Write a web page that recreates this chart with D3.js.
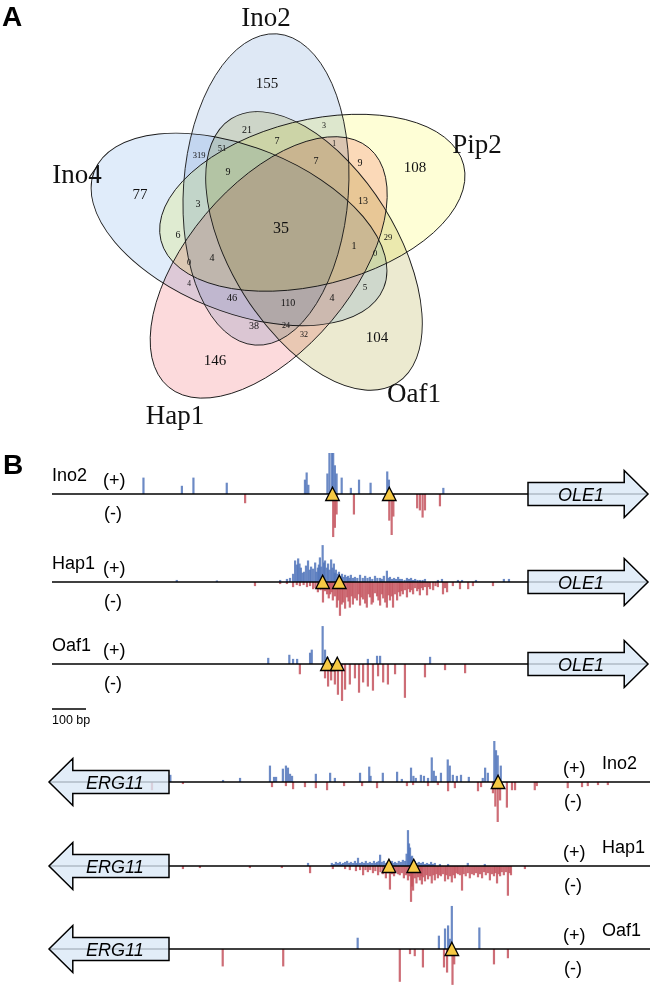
<!DOCTYPE html>
<html><head><meta charset="utf-8">
<script src="https://cdn.jsdelivr.net/npm/d3@7"></script>
<style>body{margin:0;background:#fff}svg{display:block}</style>
</head><body>
<svg id="c" width="650" height="987"></svg>
<script>
// ================= DATA =================
const setNames = ["Ino2", "Pip2", "Oaf1", "Hap1", "Ino4"];
const setColors = ["#dee8f5", "#fefed6", "#ecead0", "#fcdadc", "#e0ecfa"];
const regionCounts = [155,108,104,146,77,35,21,3,319,51,7,1,7,9,9,13,3,6,29,1,0,0,4,4,46,110,4,5,38,24,32];

const geneNames = ["OLE1", "ERG11"];
const factorNames = ["Ino2", "Hap1", "Oaf1"];
// [position bp relative to ATG (negative = upstream), read signal]
const ole1Ino2Plus = [[-1131,16],[-1018,8],[-984,16],[-886,11],[-656,14],[-651,21],[-646,9],[-590,20],[-584,40],[-577,40],[-573,40],[-568,28],[-563,20],[-548,16],[-521,6],[-497,14],[-463,11],[-414,22],[-409,14],[-249,6]];
const ole1Ino2Minus = [[-832,9],[-573,42],[-568,33],[-563,20],[-512,20],[-408,26],[-401,40],[-396,22],[-326,14],[-318,16],[-310,23],[-303,16],[-259,12]];
const ole1Ino2Motifs = [-575,-408];
const ole1Hap1Plus = [[-1033,2],[-915,1.5],[-729,2],[-709,3],[-700,4],[-691,8],[-685,21],[-680,17],[-676,23],[-672,18],[-668,14],[-663,9],[-659,10],[-653,16],[-647,21],[-642,12],[-638,15],[-632,13],[-626,19],[-622,10],[-618,14],[-615,17],[-612,24],[-608,15],[-604,36],[-600,19],[-597,21],[-592,14],[-588,18],[-584,12],[-579,22],[-575,14],[-571,18],[-568,9],[-565,12],[-560,8],[-556,10],[-551,6],[-547,8],[-543,5],[-538,7],[-533,5],[-529,6],[-525,4],[-521,7],[-515,4],[-509,5],[-502,4],[-494,7],[-486,4],[-479,6],[-472,4],[-465,5],[-458,3],[-450,6],[-443,4],[-435,4],[-430,3],[-424,6],[-415,11],[-410,4],[-406,5],[-400,3],[-394,4],[-388,3],[-382,5],[-377,3],[-371,3],[-363,2],[-356,4],[-350,3],[-344,4],[-338,2],[-332,3],[-325,2],[-318,2],[-310,2],[-303,3],[-265,2],[-253,3],[-206,2],[-194,2],[-153,2],[-71,3],[-56,3]];
const ole1Hap1Minus = [[-803,4],[-729,2],[-709,2],[-691,5],[-680,3],[-671,4],[-660,3],[-650,5],[-641,4],[-632,7],[-625,6],[-618,10],[-610,8],[-603,20],[-597,9],[-591,12],[-586,16],[-582,12],[-578,10],[-574,18],[-568,14],[-562,25],[-558,18],[-553,33],[-548,22],[-544,20],[-538,26],[-532,15],[-528,19],[-524,25],[-519,14],[-515,22],[-509,16],[-503,18],[-498,12],[-494,23],[-490,15],[-485,17],[-479,21],[-474,25],[-469,12],[-465,15],[-460,22],[-456,20],[-450,11],[-444,14],[-440,18],[-435,23],[-430,12],[-426,16],[-420,20],[-415,25],[-410,13],[-406,18],[-401,14],[-397,25],[-391,12],[-385,18],[-380,10],[-376,14],[-372,9],[-368,12],[-362,8],[-356,15],[-351,7],[-347,10],[-343,8],[-338,12],[-332,6],[-326,9],[-322,7],[-318,13],[-313,6],[-309,8],[-303,5],[-297,13],[-292,5],[-288,7],[-279,8],[-272,4],[-265,5],[-250,12],[-244,6],[-238,10],[-221,4],[-200,7],[-176,7],[-162,4],[-103,4]];
const ole1Hap1Motifs = [-604,-555];
const ole1Oaf1Plus = [[-764,6],[-702,9],[-691,5],[-679,5],[-641,11],[-636,14],[-604,37],[-597,14],[-590,7],[-471,5],[-444,8],[-435,8],[-288,7]];
const ole1Oaf1Minus = [[-671,10],[-597,14],[-588,22],[-579,16],[-568,20],[-559,30],[-547,36],[-538,25],[-524,20],[-509,14],[-497,28],[-485,18],[-471,22],[-456,26],[-441,12],[-426,18],[-412,20],[-391,10],[-362,33],[-303,13],[-244,6],[-185,9]];
const ole1Oaf1Motifs = [-590,-561];

const erg11Ino2Plus = [[-4,7],[-159,2],[-209,4],[-297,16],[-309,5],[-315,5],[-335,13],[-344,16],[-350,14],[-356,8],[-362,6],[-432,8],[-474,9],[-488,4],[-562,9],[-589,15],[-593,6],[-629,9],[-671,10],[-685,3],[-712,14],[-719,6],[-726,4],[-741,7],[-750,6],[-762,4],[-773,24],[-779,11],[-785,6],[-800,9],[-820,22],[-826,16],[-835,7],[-847,6],[-859,7],[-882,5],[-923,4],[-930,14],[-938,9],[-957,40],[-962,31],[-967,26],[-976,16]];
const erg11Ino2Minus = [[50,8],[-41,2],[-303,5],[-344,4],[-365,7],[-400,5],[-432,6],[-465,8],[-515,4],[-568,4],[-612,6],[-700,4],[-718,3],[-762,4],[-791,3],[-821,9],[-841,6],[-909,9],[-918,5],[-953,11],[-960,24],[-967,39],[-974,18],[-994,25],[-1009,8],[-1018,8],[-1076,8],[-1082,4],[-1173,6],[-1215,5],[-1232,4],[-1262,3],[-1291,3]];
const erg11Ino2Motifs = [-968];
const erg11Hap1Plus = [[-409,3],[-479,3],[-485,2],[-491,4],[-497,3],[-503,4],[-508,2],[-512,3],[-518,4],[-524,5],[-530,3],[-535,4],[-541,3],[-547,5],[-552,3],[-556,8],[-562,3],[-568,4],[-574,3],[-579,5],[-585,3],[-591,4],[-597,3],[-603,5],[-608,3],[-612,4],[-617,5],[-621,11],[-626,4],[-632,5],[-638,3],[-644,4],[-650,3],[-656,5],[-660,3],[-665,4],[-670,3],[-676,5],[-682,4],[-688,6],[-694,5],[-699,12],[-703,35],[-706,22],[-709,18],[-712,9],[-715,10],[-719,4],[-723,5],[-729,3],[-735,4],[-741,3],[-747,4],[-753,2],[-759,3],[-765,2],[-771,4],[-776,2],[-782,3],[-797,2],[-821,2],[-879,3],[-929,2]];
const erg11Hap1Minus = [[-41,3],[-91,2],[-238,2],[-332,2],[-415,7],[-482,3],[-518,3],[-532,4],[-550,5],[-562,4],[-571,9],[-578,4],[-585,6],[-592,4],[-600,7],[-607,5],[-615,9],[-622,6],[-629,8],[-634,5],[-638,12],[-644,7],[-650,23],[-656,8],[-662,10],[-668,6],[-674,8],[-679,9],[-685,7],[-691,12],[-697,9],[-703,14],[-708,10],[-712,35],[-715,20],[-718,24],[-723,12],[-728,17],[-733,11],[-738,14],[-741,10],[-744,18],[-748,11],[-753,15],[-758,9],[-762,13],[-768,10],[-773,17],[-778,9],[-782,14],[-787,8],[-791,12],[-796,9],[-800,10],[-806,8],[-812,15],[-816,9],[-821,13],[-827,10],[-832,16],[-837,9],[-841,12],[-846,7],[-850,8],[-856,9],[-862,24],[-867,8],[-873,10],[-879,7],[-885,12],[-891,8],[-897,9],[-903,7],[-909,11],[-915,8],[-921,12],[-927,6],[-932,9],[-938,7],[-944,14],[-950,8],[-956,10],[-960,7],[-965,17],[-970,8],[-974,10],[-979,6],[-985,9],[-991,6],[-997,29],[-1002,7],[-1006,9],[-1047,3]];
const erg11Hap1Motifs = [-647,-720];
const erg11Oaf1Plus = [[-555,11],[-794,13],[-812,20],[-821,23],[-826,10],[-832,42],[-913,21]];
const erg11Oaf1Minus = [[-158,17],[-336,17],[-679,32],[-709,5],[-723,7],[-747,18],[-809,18],[-818,23],[-834,35],[-839,15],[-956,15],[-997,9]];
const erg11Oaf1Motifs = [-832];

// ================= LAYOUT =================
const svg = d3.select("#c");
const serif = "'Liberation Serif','Times New Roman',serif";
const sans = "'Liberation Sans',Arial,sans-serif";

svg.append("text").attr("x",2).attr("y",26).text("A")
  .attr("font-family",sans).attr("font-weight","bold").attr("font-size",28);
svg.append("text").attr("x",3).attr("y",474).text("B")
  .attr("font-family",sans).attr("font-weight","bold").attr("font-size",28);

// ---------- Venn ----------
const V = {cx:280, cy:228, d:41, a:156, b:82.5, off0:-110, axis0:-86};
const rad = Math.PI/180;
const ellipses = setNames.map((n,k)=>{
  const o = (V.off0 + 72*k)*rad;
  return {name:n, color:setColors[k], cx:V.cx+V.d*Math.cos(o), cy:V.cy+V.d*Math.sin(o), rot:V.axis0+72*k};
});
const vg = svg.append("g").style("isolation","isolate");
vg.selectAll("ellipse.f").data(ellipses).join("ellipse")
  .attr("class","f").attr("cx",d=>d.cx).attr("cy",d=>d.cy).attr("rx",V.a).attr("ry",V.b)
  .attr("transform",d=>`rotate(${d.rot},${d.cx},${d.cy})`)
  .attr("fill",d=>d.color).style("mix-blend-mode","multiply");
svg.selectAll("ellipse.s").data(ellipses).join("ellipse")
  .attr("class","s").attr("cx",d=>d.cx).attr("cy",d=>d.cy).attr("rx",V.a).attr("ry",V.b)
  .attr("transform",d=>`rotate(${d.rot},${d.cx},${d.cy})`)
  .attr("fill","none").attr("stroke","#1a1a1a").attr("stroke-width",0.9);

const setLabelXY = [[266,26],[477,153],[414,402],[175,424],[77,183]];
svg.selectAll("text.setl").data(setNames).join("text").attr("class","setl")
  .attr("x",(d,i)=>setLabelXY[i][0]).attr("y",(d,i)=>setLabelXY[i][1])
  .attr("text-anchor","middle").attr("font-family",serif).attr("font-size",27).attr("fill","#111")
  .text(d=>d);

const regionLabelXY = [[267,83],[415,167],[377,337],[215,360],[140,194],[281,227],[247,129],[324,125],[199,155],[222,148],[277,140],[334,143],[316,160],[360,162],[228,171],[363,200],[198,203],[178,234],[388,237],[354,245],[375,253],[189,262],[212,257],[189,283],[232,297],[288,302],[332,297],[365,287],[254,325],[286,325],[304,334]];
const regionLabelSize = [15,15,15,15,15,16,10,8,8.5,8.5,10,7.5,10,10,10,10,10,10,8.5,10,8.5,8,10,7.5,10.5,10,10,9,10,8,8];
svg.selectAll("text.reg").data(regionCounts).join("text").attr("class","reg")
  .attr("x",(d,i)=>regionLabelXY[i][0]).attr("y",(d,i)=>regionLabelXY[i][1])
  .attr("dy","0.35em").attr("text-anchor","middle").attr("font-family",serif)
  .attr("font-size",(d,i)=>regionLabelSize[i]).attr("fill","#111").text(d=>d);

// ---------- Panel B ----------
const xOLE = d3.scaleLinear().domain([-1400, 0]).range([52, 528]);
const xERG = d3.scaleLinear().domain([0, -1415]).range([169, 650]);
const hScale = d3.scaleLinear().domain([0, 40]).range([0, 41]);
const geneLen = 353, headLen = 70;

const tracks = [
  {gene:0, f:0, y:494, plus:ole1Ino2Plus, minus:ole1Ino2Minus, motifs:ole1Ino2Motifs},
  {gene:0, f:1, y:582, plus:ole1Hap1Plus, minus:ole1Hap1Minus, motifs:ole1Hap1Motifs},
  {gene:0, f:2, y:664, plus:ole1Oaf1Plus, minus:ole1Oaf1Minus, motifs:ole1Oaf1Motifs},
  {gene:1, f:0, y:782, plus:erg11Ino2Plus, minus:erg11Ino2Minus, motifs:erg11Ino2Motifs},
  {gene:1, f:1, y:866, plus:erg11Hap1Plus, minus:erg11Hap1Minus, motifs:erg11Hap1Motifs},
  {gene:1, f:2, y:949, plus:erg11Oaf1Plus, minus:erg11Oaf1Minus, motifs:erg11Oaf1Motifs}
];

tracks.forEach(t=>{
  const x = t.gene===0 ? xOLE : xERG;
  const dir = t.gene===0 ? 1 : -1;
  const g = svg.append("g");
  const bw = 2.2;
  g.selectAll("rect.p").data(t.plus).join("rect")
    .attr("x",d=>x(d[0])-bw/2).attr("width",bw)
    .attr("y",d=>t.y-hScale(d[1])).attr("height",d=>hScale(d[1]))
    .attr("fill","#5275bb").attr("fill-opacity",0.85);
  g.selectAll("rect.m").data(t.minus).join("rect")
    .attr("x",d=>x(d[0])-bw/2).attr("width",bw)
    .attr("y",t.y).attr("height",d=>hScale(d[1]))
    .attr("fill","#c4545e").attr("fill-opacity",0.85);
  const lineStart = t.gene===0 ? x(-1400) : x(geneLen);
  const lineEnd = t.gene===0 ? x(geneLen) : x(-1415);
  g.append("line").attr("x1",lineStart).attr("x2",lineEnd).attr("y1",t.y).attr("y2",t.y)
    .attr("stroke","#000").attr("stroke-width",1.6);
  const xs = x(0), xe = x(geneLen), hb = x(geneLen - headLen);
  const bh = 11.5, hh = 23.5;
  const pts = [[xs,t.y-bh],[hb,t.y-bh],[hb,t.y-hh],[xe,t.y],[hb,t.y+hh],[hb,t.y+bh],[xs,t.y+bh]];
  g.append("path").attr("d", d3.line()(pts)+"Z")
    .attr("fill","#dbe8f6").attr("fill-opacity",0.8).attr("stroke","#000").attr("stroke-width",1.5)
    .attr("stroke-linejoin","miter");
  const bodyMid = (xs+hb)/2 + (xe>xs ? 5 : -6);
  g.append("text").attr("x",bodyMid).attr("y",t.y+6.5).attr("text-anchor","middle")
    .attr("font-family",sans).attr("font-style","italic").attr("font-size",18)
    .text(geneNames[t.gene]);
  g.selectAll("path.mo").data(t.motifs).join("path")
    .attr("d",d=>{const cx=x(d); return d3.line()([[cx-6.8,t.y+6.5],[cx+6.8,t.y+6.5],[cx,t.y-6.8]])+"Z";})
    .attr("fill","#f6c944").attr("stroke","#000").attr("stroke-width",1.3).attr("stroke-linejoin","miter");
  const nameX = t.gene===0 ? 52 : 602;
  const pmX = t.gene===0 ? 103 : 563;
  g.append("text").attr("x",nameX).attr("y",t.y-13).attr("font-family",sans).attr("font-size",18)
    .text(factorNames[t.f]);
  g.append("text").attr("x",pmX).attr("y",t.y-8).attr("font-family",sans).attr("font-size",18).text("(+)");
  g.append("text").attr("x",pmX+1).attr("y",t.y+25).attr("font-family",sans).attr("font-size",18).text("(-)");
});

svg.append("line").attr("x1",xOLE(-1400)).attr("x2",xOLE(-1300)).attr("y1",709).attr("y2",709)
  .attr("stroke","#000").attr("stroke-width",1.4);
svg.append("text").attr("x",xOLE(-1400)).attr("y",724).attr("font-family",sans).attr("font-size",12.5).text("100 bp");
</script>
</body></html>
